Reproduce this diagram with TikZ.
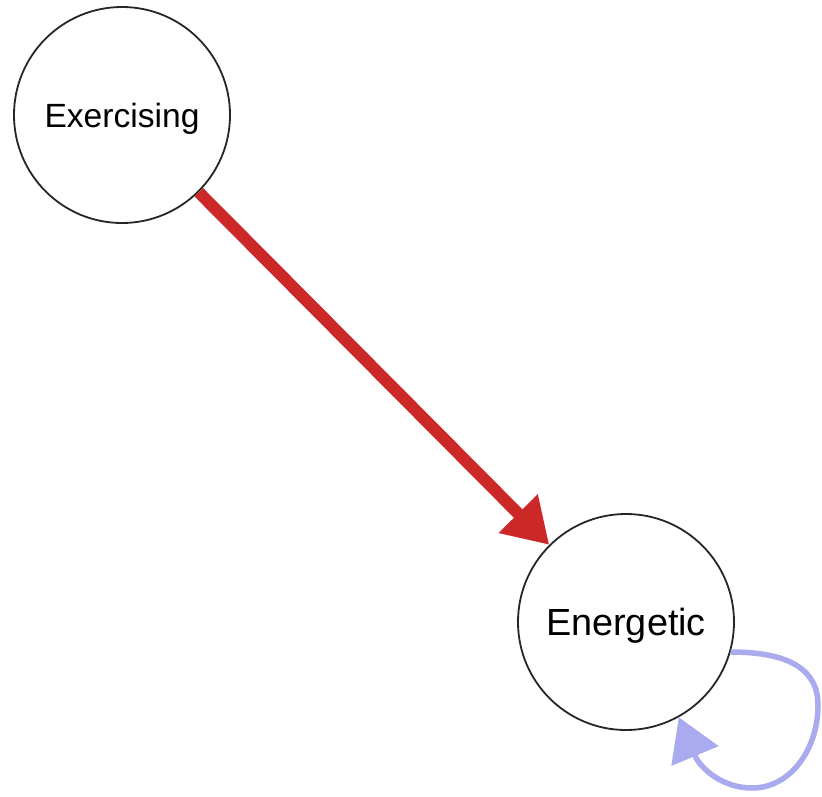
\documentclass[tikz,border=0pt]{standalone}
\usepackage{fontspec}
\setmainfont{Liberation Sans}
\usetikzlibrary{arrows.meta}
\definecolor{causered}{RGB}{205,40,40}
\definecolor{loopblue}{RGB}{170,170,238}
\begin{document}
\begin{tikzpicture}[x=1pt,y=-1pt,
  state/.style={circle,draw=black!85,line width=1.8pt,minimum size=216pt,inner sep=0pt},
  strong/.style={draw=causered,line width=12pt,
    -{Triangle[length=44pt,width=52pt]}},
  selfloop/.style={draw=loopblue,line width=5.5pt,
    -{Triangle[length=42pt,width=50pt]}}]
\useasboundingbox (0,0) rectangle (822,796);
\node[state,text height=31pt,text depth=7pt,font=\fontsize{33.6}{40}\selectfont]
  (ex) at (122,115) {Exercising};
\node[state,text height=34pt,text depth=8pt,font=\fontsize{37.8}{44}\selectfont]
  (en) at (626,622) {Energetic};
\draw[strong] (ex) -- (en);
\draw[selfloop] (en.-16) .. controls (790,652) and (818,670) .. (818,705)
  .. controls (818,750) and (790,788) .. (752,788)
  .. controls (722,788) and (700,768) .. (en.-61);
\end{tikzpicture}
\end{document}
